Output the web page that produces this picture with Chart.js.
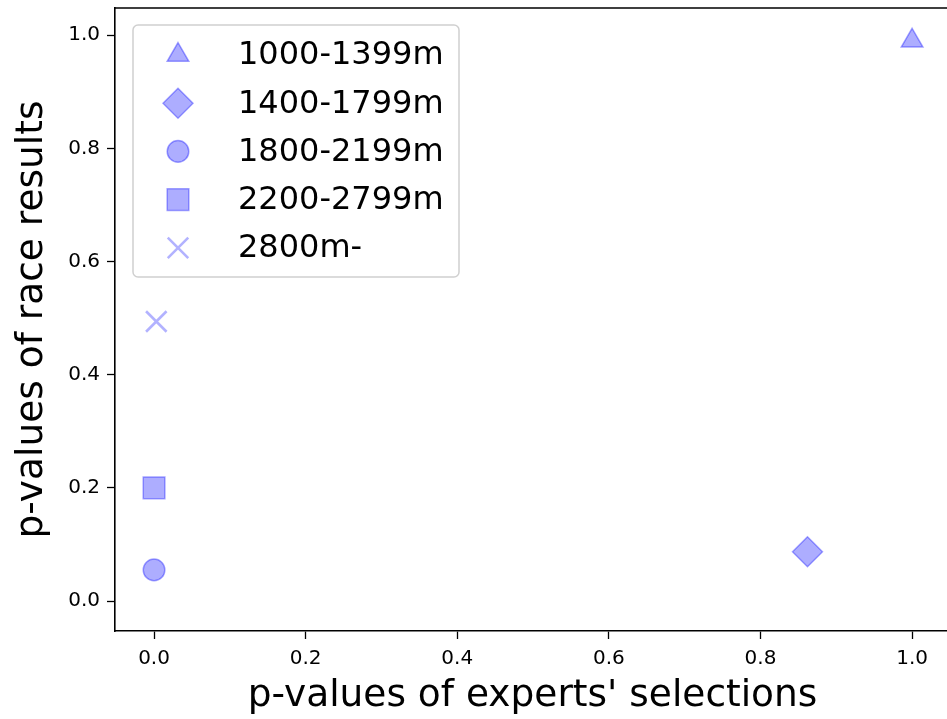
<!DOCTYPE html>
<html>
<head>
<meta charset="utf-8">
<script src="https://cdn.jsdelivr.net/npm/chart.js@4.4.1/dist/chart.umd.min.js"></script>
<style>
  html, body { margin: 0; padding: 0; background: #fff; overflow: hidden; }
  canvas { display: block; }
</style>
</head>
<body>
<canvas id="scatter" width="952" height="719"></canvas>
<script>
// ─── Data ────────────────────────────────────────────────────────
const distanceLabels = ["1000-1399m", "1400-1799m", "1800-2199m", "2200-2799m", "2800m-"];
const expertP = [1.0, 0.862, 0.0, 0.0, 0.003];
const raceP = [0.99, 0.087, 0.055, 0.2, 0.494];
const xTickValues = [0.0, 0.2, 0.4, 0.6, 0.8, 1.0];
const yTickValues = [0.0, 0.2, 0.4, 0.6, 0.8, 1.0];
const xRange = [-0.0515, 1.05];
const yRange = [-0.053, 1.048];

// marker styles per series (matplotlib ^, D, o, s, x)
const markerStyles = ["triangle", "rectRot", "circle", "rect", "crossRot"];
const markerRadius = [12.5, 15, 10.8, 15.3, 14.5];

const FONT = "'DejaVu Sans', sans-serif";
const FILL = "rgba(0, 0, 255, 0.32)";
const EDGE = "rgba(0, 0, 255, 0.35)";
const CROSS = "rgba(0, 0, 255, 0.3)";

const datasets = distanceLabels.map((label, i) => {
    const isCross = markerStyles[i] === "crossRot";
    return {
        label,
        data: [{ x: expertP[i], y: raceP[i] }],
        pointStyle: markerStyles[i],
        pointRadius: markerRadius[i],
        pointHoverRadius: markerRadius[i],
        backgroundColor: isCross ? CROSS : FILL,
        borderColor: isCross ? CROSS : EDGE,
        borderWidth: isCross ? 2.6 : 1.5,
    };
});

// ─── Plugins ─────────────────────────────────────────────────────
// top spine (right spine falls outside the window like the original crop)
const topSpine = {
    id: "topSpine",
    afterDraw(chart) {
        const { ctx, chartArea } = chart;
        ctx.save();
        ctx.strokeStyle = "#000";
        ctx.lineWidth = 1.6;
        ctx.beginPath();
        ctx.moveTo(chartArea.left, chartArea.top);
        ctx.lineTo(chartArea.right, chartArea.top);
        ctx.lineTo(chartArea.right, chartArea.bottom);
        ctx.stroke();
        ctx.restore();
    }
};

// matplotlib-style legend box inside the axes, upper left
const legendBox = {
    id: "legendBox",
    afterDraw(chart) {
        const { ctx, chartArea } = chart;
        const bx = chartArea.left + 18, by = chartArea.top + 17;
        const bw = 326, bh = 252;
        ctx.save();
        ctx.fillStyle = "rgba(255,255,255,0.85)";
        ctx.strokeStyle = "#d0d0d0";
        ctx.lineWidth = 1.5;
        ctx.beginPath();
        ctx.roundRect(bx, by, bw, bh, 5);
        ctx.fill();
        ctx.stroke();

        ctx.font = "32px " + FONT;
        ctx.textBaseline = "middle";
        ctx.textAlign = "left";
        chart.data.datasets.forEach((ds, i) => {
            const cy = by + 30 + i * 48.2;
            const cx = bx + 45;
            ctx.fillStyle = ds.backgroundColor;
            ctx.strokeStyle = ds.borderColor;
            ctx.lineWidth = ds.borderWidth;
            if (Chart.helpers && Chart.helpers.drawPoint) {
                Chart.helpers.drawPoint(ctx, {
                    pointStyle: ds.pointStyle, radius: ds.pointRadius,
                    rotation: 0, borderWidth: ds.borderWidth
                }, cx, cy);
            }
            ctx.fillStyle = "#000";
            ctx.fillText(ds.label, bx + 105, cy + 1);
        });
        ctx.restore();
    }
};

// ─── Chart ───────────────────────────────────────────────────────
new Chart(document.getElementById("scatter").getContext("2d"), {
    type: "scatter",
    data: { datasets },
    options: {
        responsive: false,
        animation: false,
        events: [],
        layout: { autoPadding: false, padding: { top: 8, right: 2, left: 0, bottom: 0 } },
        plugins: {
            legend: { display: false },
            tooltip: { enabled: false }
        },
        scales: {
            x: {
                type: "linear",
                min: xRange[0],
                max: xRange[1],
                afterBuildTicks: scale => { scale.ticks = xTickValues.map(v => ({ value: v })); },
                afterFit: scale => {
                    scale.height = 88;
                    scale.paddingLeft = scale.paddingRight = 0;
                },
                ticks: {
                    color: "#000",
                    font: { family: FONT, size: 20 },
                    padding: 8,
                    maxRotation: 0,
                    callback: v => Number(v).toFixed(1)
                },
                grid: {
                    display: true, drawOnChartArea: false, drawTicks: true,
                    tickLength: 8, tickColor: "#000", tickWidth: 1.3
                },
                border: { display: true, color: "#000", width: 1.6 },
                title: {
                    display: true,
                    text: "p-values of experts' selections",
                    color: "#000",
                    font: { family: FONT, size: 37.5 },
                    padding: { top: 0, bottom: 0 }
                }
            },
            y: {
                type: "linear",
                min: yRange[0],
                max: yRange[1],
                afterBuildTicks: scale => { scale.ticks = yTickValues.map(v => ({ value: v })); },
                afterFit: scale => {
                    scale.width = 115;
                    scale.paddingTop = scale.paddingBottom = 0;
                },
                ticks: {
                    color: "#000",
                    font: { family: FONT, size: 20 },
                    padding: 7,
                    callback: v => Number(v).toFixed(1)
                },
                grid: {
                    display: true, drawOnChartArea: false, drawTicks: true,
                    tickLength: 8, tickColor: "#000", tickWidth: 1.3
                },
                border: { display: true, color: "#000", width: 1.6 },
                title: {
                    display: true,
                    text: "p-values of race results",
                    color: "#000",
                    font: { family: FONT, size: 37.5 },
                    padding: { top: 10, bottom: 10 }
                }
            }
        }
    },
    plugins: [topSpine, legendBox]
});
</script>
</body>
</html>
